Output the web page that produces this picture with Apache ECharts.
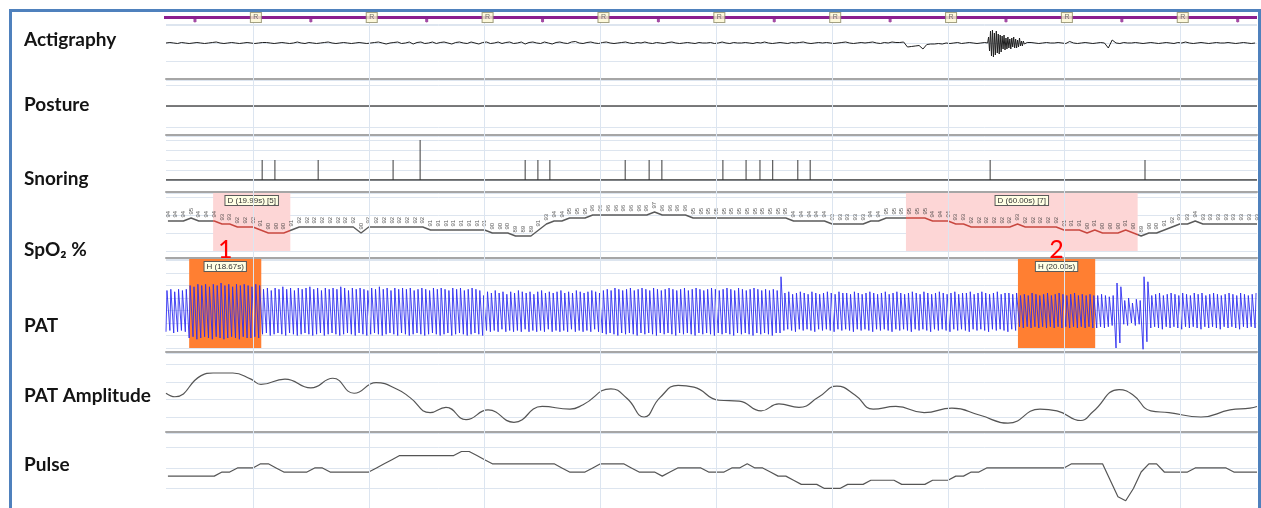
<!DOCTYPE html>
<html>
<head>
<meta charset="utf-8">
<script src="https://cdn.jsdelivr.net/npm/echarts@6/dist/echarts.min.js"></script>
<style>
  html, body { margin: 0; padding: 0; background: #ffffff; }
  #chart { width: 1261px; height: 508px; }
</style>
</head>
<body>
<div id="chart"></div>
<script>
// ---------------- data ----------------
// Time is in seconds from the left edge of the view.
const viewSpan = 282.5;

// Scored 30 s epochs (sleep stage of each) and the stage levels of the hypnogram strip.
const epochLength = 30;
const epochStarts = [-7.5, 22.5, 52.5, 82.5, 112.5, 142.5, 172.5, 202.5, 232.5, 262.5];
const epochStages = ['R', 'R', 'R', 'R', 'R', 'R', 'R', 'R', 'R', 'R'];
const stageLevel = { R: 1 };

// Actigraphy: 1 s samples (null where the fine-sampled movement burst takes over).
const actiStep = 1;
const actiBase = [
  0, 0.5, 0, -0.5, 0.5, 0, -0.5, 0, 0.5, 0,
  -0.5, 0, 0.5, 1, 0, -0.5, 0, 0.5, 0, -0.5,
  0, 0.5, 0, -0.5, 0, 0.5, 0.5, 0, -0.5, 0,
  0.5, 0, -0.5, 0, 1, 0, -0.5, 0.5, 0, -0.5,
  0, 0.5, 1, 0, -0.5, 0, 0.5, 0, -0.5, 0,
  0.5, 0, -0.5, 0, 0.5, 1, 0, -1, 0, 0.5,
  1, -0.5, 0, 1, -1, 0.5, 1, -0.5, 0, 1,
  -0.5, 0.5, 1, 0, -1, 0.5, 1, 0, -0.5, 1,
  0, -1, 0.5, 1, -0.5, 0, 1, -0.5, 0.5, 1,
  -0.5, 0, 1, -1, 0.5, 1, 0, -0.5, 1, 0,
  -1, 0.5, 1, 0, -0.5, 1, 1.5, 0, -0.5, 0.5,
  1, 0, -0.5, 0.5, 1, 0, -0.5, 0, 0.5, 1,
  0, -0.5, 0.5, 0, 1, 0, -0.5, 0.5, 0, -0.5,
  0.5, 1, 0, -0.5, 0, 0.5, 0, -0.5, 0.5, 0,
  0, 0.5, -0.5, 0, 1, 0, -0.5, 0.5, 0, 0,
  0.5, 0, -0.5, 0.5, 0, 1, 0, -0.5, 0, 0.5,
  0, -0.5, 0.5, 0, 0.5, 1, 0, -0.5, 0, 0.5,
  0, 0.5, 0, -0.5, 0, 0.5, 1, 0, -0.5, 0,
  0.5, 0, 0.5, 1, 0, -0.5, 0.5, 0, 1, 0.5,
  0.5, 1, -4, -3.5, -3, -2.5, -6, -1.5, -1, -1,
  -0.5, -1, 0, -0.5, 0, 0.5, -0.5, 0, 0.5, 0,
  -0.5, 0, 0.5, null, null, null, null, null, null, null,
  null, null, null, null, 0.5, 0, -0.5, 0, 0.5, 0,
  0, 0.5, 0, -0.5, 1.5, 0, -0.5, 0, 0.5, 0,
  -0.5, 0, 0.5, 0, -5, 3, 0, -0.5, 0.5, 0,
  0, 0.5, 0, -0.5, 0, 0.5, 0, -0.5, 0, 0.5,
  0, -0.5, 0.5, 0, 1, 0, -0.5, 0, 0.5, 0,
  -0.5, 0, 0.5, 0, 0, 0.5, 0, -0.5, 0, 0.5,
  0, -0.5, 0
];
// Movement burst, 0.25 s samples.
const actiBurstStart = 212.75;
const actiBurstStep = 0.25;
const actiBurst = [
  0, 6, -8, 12, -13, 13, -14, 10, -12, 12,
  -10, 9, -11, 8, -9, 7, -6, 8, -7, 5,
  -6, 6, -5, 4, -6, 5, -4, 6, -5, 4,
  -5, 3, -4, 5, -3, 2, -3, 2, -1, 1,
  -1, 0.5, 0
];

// Body posture (single position through the view).
const postureTimes = [0, 282.5];
const postureValues = [0, 0];

// Snoring events: time and intensity.
const snoreTimes = [24.9, 28.2, 39.4, 58.8, 65.8, 93.0, 96.3, 99.4, 118.9, 125.1,
  128.4, 144.2, 150.2, 153.8, 157.1, 163.6, 166.8, 213.4, 253.5];
const snoreLevels = [20, 20, 20, 20, 40, 20, 20, 20, 20, 20,
  20, 20, 20, 20, 20, 20, 20, 20, 20];
const snoreBaseTimes = [0, 282.5];

// SpO2 (%), one sample every 2 s.
const spo2Start = 0.5;
const spo2Step = 2;
const spo2 = [
  94, 94, 94, 95, 94, 94, 94, 93, 93, 92,
  92, 92, 91, 90, 90, 90, 91, 92, 92, 92,
  92, 92, 92, 92, 92, 90, 92, 92, 92, 92,
  92, 92, 92, 92, 91, 91, 91, 91, 91, 91,
  91, 91, 90, 90, 90, 89, 89, 89, 91, 93,
  94, 94, 95, 95, 95, 96, 96, 96, 96, 96,
  96, 96, 96, 97, 96, 96, 96, 96, 95, 95,
  95, 95, 95, 95, 95, 95, 95, 95, 95, 95,
  95, 94, 94, 94, 94, 94, 93, 93, 93, 93,
  93, 94, 94, 95, 95, 95, 95, 95, 95, 94,
  94, 94, 93, 93, 92, 92, 92, 92, 92, 92,
  93, 92, 92, 92, 92, 92, 91, 91, 91, 90,
  91, 90, 90, 90, 91, 90, 89, 90, 90, 91,
  92, 93, 93, 94, 93, 93, 93, 93, 93, 93,
  93, 93
];

// Pulse rate (bpm), same 2 s sampling.
const pulse = [
  63, 63, 63, 63, 63, 63, 63, 64, 64, 65,
  65, 65, 66, 66, 65, 64, 64, 64, 64, 65,
  65, 64, 64, 64, 64, 64, 64, 65, 66, 67,
  68, 68, 68, 68, 68, 68, 68, 68, 69, 69,
  68, 67, 66, 66, 66, 66, 66, 66, 66, 66,
  66, 65, 64, 64, 64, 65, 66, 66, 66, 66,
  65, 64, 64, 64, 63, 64, 65, 65, 65, 65,
  64, 64, 64, 65, 65, 66, 65, 65, 64, 63,
  63, 62, 61, 61, 61, 60, 60, 60, 61, 61,
  61, 62, 62, 62, 62, 61, 61, 61, 61, 62,
  62, 62, 63, 63, 64, 64, 65, 65, 65, 65,
  65, 65, 65, 65, 65, 65, 65, 66, 66, 66,
  66, 66, 62, 58, 57, 60, 64, 66, 66, 64,
  64, 64, 64, 65, 65, 65, 65, 65, 64, 64,
  64, 64
];

// PAT waveform: per-beat trough and peak.
const beatPeriod = 1;
const upstroke = 0.25;
const patHigh = [
  16, 17, 15, 17, 16, 17,
  20, 19, 21, 20, 21, 19, 21, 20, 22, 20, 21, 19, 21, 20, 21, 20, 19, 21, 20,
  17, 18, 16, 18, 17, 19, 17, 18, 16, 18,
  17, 18, 19, 17, 18, 16, 18, 17, 18, 17,
  19, 18, 16, 18, 17, 18, 17, 16, 18, 17,
  19, 17, 18, 16, 18, 17, 18, 17, 18, 16,
  17, 18, 17, 16, 18, 17, 18, 17, 16, 18,
  17, 18, 16, 17, 18, 17, 16,
  12, 15, 14, 16, 14, 15, 13, 15, 14, 16,
  15, 14, 15, 13, 15, 16, 14, 15, 14, 15,
  16, 14, 15, 14, 16, 15, 14, 15, 16, 15, 14,
  16, 17, 16, 18, 17, 16, 17, 18, 16, 17,
  18, 17, 16, 18, 17, 16, 17, 18, 17, 16,
  17, 18, 16, 17, 18, 17, 16, 17, 18, 17,
  16, 17, 18, 17, 16, 18, 17, 16, 17, 18,
  17, 16, 17, 16, 17, 16,
  27,
  14, 15, 13, 14, 15, 14, 13, 15, 14, 13,
  14, 15, 14, 13, 15, 14, 14, 13, 15, 14,
  13, 14, 15, 14, 13, 14, 15, 13, 14, 15,
  14, 13, 14, 15, 14, 13, 15, 14, 13, 14,
  15, 14, 13, 14, 15, 13, 14, 14, 15, 13,
  14, 15, 14, 13, 14, 15, 13, 14, 14, 13, 14,
  12, 13, 12, 14, 13, 12, 13, 14, 12, 13, 14, 13, 12, 13, 14, 12, 13, 12, 13, 12,
  12, 13, 12, 11, 12,
  22, 19,
  8, 10, 6, 9, 8,
  27, 23,
  12, 13, 14, 12, 13, 14, 13, 12, 14, 13,
  12, 14, 13, 14, 12, 13, 14, 13, 12, 13,
  14, 13, 12, 14, 13, 12, 13, 14
];
const patLow = [
  -17, -16, -18, -17, -16, -17,
  -22, -21, -23, -22, -21, -22, -23, -21, -22, -23, -22, -21, -22, -23, -21, -22, -22, -21, -22,
  -19, -18, -20, -19, -18, -19, -20, -18, -19, -20,
  -19, -18, -19, -20, -19, -18, -20, -19, -18, -19,
  -20, -19, -18, -19, -20, -18, -19, -20, -19, -18,
  -19, -20, -19, -18, -19, -20, -18, -19, -20, -19,
  -18, -19, -20, -19, -18, -19, -20, -19, -18, -20,
  -19, -18, -19, -20, -19, -18, -19,
  -20, -16, -17, -16, -17, -15, -17, -16, -17, -16,
  -17, -15, -17, -16, -17, -16, -17, -15, -17, -16,
  -17, -16, -17, -15, -17, -16, -17, -16, -17, -15, -17,
  -18, -19, -18, -19, -20, -18, -19, -18, -19, -20,
  -18, -19, -18, -19, -20, -18, -19, -18, -19, -20,
  -18, -19, -18, -19, -20, -18, -19, -18, -19, -20,
  -18, -19, -18, -19, -20, -18, -19, -18, -19, -20,
  -18, -19, -18, -19, -20, -18,
  -18,
  -16, -15, -16, -17, -15, -16, -15, -16, -17, -15,
  -16, -15, -16, -17, -15, -16, -15, -16, -17, -15,
  -16, -15, -16, -17, -15, -16, -15, -16, -17, -15,
  -16, -15, -16, -17, -15, -16, -15, -16, -17, -15,
  -16, -15, -16, -17, -15, -16, -15, -16, -17, -15,
  -16, -15, -16, -17, -15, -16, -15, -16, -17, -15, -16,
  -13, -14, -13, -14, -13, -14, -13, -14, -13, -14, -13, -14, -13, -14, -13, -14, -13, -14, -13, -14,
  -14, -13, -14, -13, -12,
  -30, -26,
  -11, -12, -10, -12, -11,
  -31, -25,
  -14, -13, -14, -15, -13, -14, -13, -14, -15, -13,
  -14, -13, -14, -15, -13, -14, -13, -14, -15, -13,
  -14, -13, -14, -15, -13, -14, -13, -14
];

// PAT amplitude trend.
const ampTimes = [0, 2.3, 9.1, 12.2, 17.3, 22.0, 24.6, 30.8, 37.5, 43.2,
  48.7, 54.4, 60.1, 63.2, 68.4, 72.5, 77.7, 83.4, 90.1, 97.4,
  104.6, 108.0, 115.2, 119.4, 123.8, 127.9, 132.6, 136.7, 143.2, 148.4,
  154.1, 158.7, 163.9, 169.1, 173.7, 178.4, 183.1, 189.0, 196.3, 203.5,
  210.8, 218.0, 226.3, 230.7, 236.9, 240.0, 246.8, 250.4, 255.0, 259.7,
  268.0, 275.5, 280.7, 282.5];
const ampValues = [47, 43, 67, 70, 70, 63, 57, 63, 53, 64,
  47, 59, 51, 42, 25, 31, 17, 28, 14, 32,
  29, 34, 52, 41, 20, 42, 56, 54, 39, 38,
  27, 35, 31, 43, 55, 45, 29, 32, 25, 30,
  22, 13, 29, 27, 16, 26, 51, 45, 27, 25,
  20, 28, 30, 32];

// Scored respiratory events.
const desatStart = [12.2, 191.6];
const desatDur = [19.99, 60.00];
const desatDrop = [5, 7];
const hypoStart = [6.0, 220.6];
const hypoDur = [18.67, 20.00];
const hypoNumber = ['1', '2'];

// Channel names.
const channelNames = ['Actigraphy', 'Posture', 'Snoring', 'SpO\u2082 %', 'PAT', 'PAT Amplitude', 'Pulse'];

// ---------------- layout ----------------
const plotLeft = 166, plotRight = 4;
const labelCenters = [40, 105, 179, 250, 326, 396, 465];
const sepColor = '#a6a6a6';
const gridColor = '#dde5ef';

// one grid per strip
const strips = [
  { top: 11,  height: 13, offset: 0,  min: 0,   max: 2,      interval: null, sep: false }, // hypnogram
  { top: 24,  height: 55, offset: 0,  min: -36, max: 19,     interval: 18,   sep: true },  // actigraphy
  { top: 80,  height: 47, offset: 8,  min: -21, max: 26,     interval: 21,   sep: true },  // posture
  { top: 136, height: 44, offset: 12, min: 0,   max: 44,     interval: 10,   sep: true },  // snoring
  { top: 193, height: 58, offset: 7,  min: 84,  max: 103.33, interval: 6,    sep: true },  // SpO2
  { top: 259, height: 89, offset: 4,  min: -30, max: 41.2,   interval: 10,   sep: true },  // PAT
  { top: 353, height: 64, offset: 15, min: 20,  max: 92.7,   interval: 20,   sep: true },  // PAT amplitude
  { top: 433, height: 76, offset: 0,  min: 55,  max: 73.5,   interval: 5,    sep: false }  // pulse
];

const grids = strips.map(s => ({ left: plotLeft, right: plotRight, top: s.top, height: s.height, outerBoundsMode: 'none' }));
grids.push({ left: plotLeft, right: plotRight, top: 22, bottom: 0, outerBoundsMode: 'none' }); // epoch rulings

const xAxes = grids.map((g, i) => {
  const s = strips[i];
  return {
    gridIndex: i, type: 'value', min: 0, max: viewSpan,
    position: 'bottom', offset: s ? s.offset : 0,
    axisLine: { show: !!(s && s.sep), onZero: false, lineStyle: { color: sepColor, width: 2 } },
    axisTick: { show: false }, axisLabel: { show: false }, splitLine: { show: false }
  };
});
const yAxes = grids.map((g, i) => {
  const s = strips[i];
  const ax = {
    gridIndex: i, type: 'value',
    axisLine: { show: false }, axisTick: { show: false }, axisLabel: { show: false },
    splitLine: { show: !!(s && s.interval), lineStyle: { color: gridColor, width: 1 } }
  };
  if (s) { ax.min = s.min; ax.max = s.max; if (s.interval) ax.interval = s.interval; }
  else { ax.min = 0; ax.max = 1; }
  return ax;
});

// ---------------- series ----------------
const lineBase = { type: 'line', symbol: 'none', showSymbol: false, silent: true, animation: false };

const hypnoPoints = epochStarts.map((t, i) => [t, stageLevel[epochStages[i]]]);
hypnoPoints.push([viewSpan, stageLevel[epochStages[epochStages.length - 1]]]);

const actiPoints = [];
actiBase.forEach((v, i) => { if (v !== null) actiPoints.push([i * actiStep, v]); });
actiBurst.forEach((v, i) => actiPoints.push([actiBurstStart + i * actiBurstStep, v]));
actiPoints.sort((a, b) => a[0] - b[0]);

const spo2Points = spo2.map((v, i) => [spo2Start + i * spo2Step, v]);
const pulsePoints = pulse.map((v, i) => [spo2Start + i * spo2Step, v]);

const patPoints = [];
patHigh.forEach((h, i) => {
  const t = i * beatPeriod;
  patPoints.push([t, patLow[i]]);
  patPoints.push([t + upstroke, h]);
});

const eventBox = {
  backgroundColor: '#ffffe4', borderColor: '#5a5a5a', borderWidth: 1,
  padding: [1, 2, 0, 2], fontSize: 8, color: '#333', fontFamily: 'Liberation Sans'
};

const series = [];
// hypnogram
series.push(Object.assign({}, lineBase, {
  xAxisIndex: 0, yAxisIndex: 0, data: hypnoPoints, step: 'start',
  lineStyle: { color: '#8c1f8f', width: 3 }, z: 3
}));
series.push({
  type: 'scatter', xAxisIndex: 0, yAxisIndex: 0, silent: true, animation: false,
  data: epochStarts.map((t, i) => [t + epochLength / 2, stageLevel[epochStages[i]]]),
  symbol: 'path://M0,0 L0,3 Q2,6 4,3 L4,0 Z', symbolSize: [3, 4], symbolOffset: [0, 3],
  itemStyle: { color: '#8c1f8f' }, z: 3
});
series.push({
  type: 'scatter', xAxisIndex: 0, yAxisIndex: 0, silent: true, animation: false,
  data: epochStarts.map((t, i) => [t, stageLevel[epochStages[i]], epochStages[i]]),
  symbol: 'rect', symbolSize: [11, 10], symbolOffset: [3, 0],
  itemStyle: { color: '#fdf8d2', borderColor: '#8d8a66', borderWidth: 1 },
  label: { show: true, position: 'inside', formatter: p => p.data[2], fontSize: 7, color: '#555', fontFamily: 'Liberation Sans' },
  z: 6
});
// actigraphy
series.push(Object.assign({}, lineBase, {
  xAxisIndex: 1, yAxisIndex: 1, data: actiPoints, lineStyle: { color: '#1e1e1e', width: 1 }, z: 3
}));
// posture
series.push(Object.assign({}, lineBase, {
  xAxisIndex: 2, yAxisIndex: 2, data: postureTimes.map((t, i) => [t, postureValues[i]]),
  lineStyle: { color: '#505050', width: 1.5 }, z: 3
}));
// snoring
series.push(Object.assign({}, lineBase, {
  xAxisIndex: 3, yAxisIndex: 3, data: snoreBaseTimes.map(t => [t, 0]),
  lineStyle: { color: '#333', width: 1.5 }, z: 3
}));
series.push({
  type: 'bar', xAxisIndex: 3, yAxisIndex: 3, silent: true, animation: false,
  data: snoreTimes.map((t, i) => [t, snoreLevels[i]]), barWidth: 1,
  itemStyle: { color: '#3a3a3a' }, z: 3
});
// desaturation areas (behind the rulings)
series.push(Object.assign({}, lineBase, {
  xAxisIndex: 4, yAxisIndex: 4, data: [], z: -1,
  markArea: {
    silent: true, itemStyle: { color: '#fdd6d6' }, label: { show: false },
    data: desatStart.map((s, i) => [{ xAxis: s }, { xAxis: s + desatDur[i] }])
  }
}));
// desaturation tags
series.push(Object.assign({}, lineBase, {
  xAxisIndex: 4, yAxisIndex: 4, data: [], z: 6,
  markArea: {
    silent: true, itemStyle: { color: 'rgba(0,0,0,0)' },
    label: Object.assign({ show: true, position: 'insideTop', distance: 3, formatter: '{b}' }, eventBox),
    data: desatStart.map((s, i) => [
      { name: 'D (' + desatDur[i].toFixed(2) + 's) [' + desatDrop[i] + ']', xAxis: s },
      { xAxis: s + desatDur[i] }
    ])
  }
}));
// SpO2 trace and values
const spo2Index = series.length;
series.push(Object.assign({}, lineBase, {
  xAxisIndex: 4, yAxisIndex: 4, data: spo2Points, lineStyle: { width: 1.4 }, z: 3
}));
series.push({
  type: 'scatter', xAxisIndex: 4, yAxisIndex: 4, silent: true, animation: false,
  data: spo2Points, symbolSize: 1, itemStyle: { color: 'rgba(0,0,0,0)' },
  label: {
    show: true, position: 'top', distance: 3, rotate: 90, align: 'left', verticalAlign: 'middle',
    formatter: p => String(p.data[1]), fontSize: 6, color: '#2e2e2e', fontFamily: 'Liberation Sans'
  },
  z: 4
});
// hypopnea areas (behind the rulings)
series.push(Object.assign({}, lineBase, {
  xAxisIndex: 5, yAxisIndex: 5, data: [], z: -1,
  markArea: {
    silent: true, itemStyle: { color: '#ff7f32' }, label: { show: false },
    data: hypoStart.map((s, i) => [{ xAxis: s }, { xAxis: s + hypoDur[i] }])
  }
}));
// PAT waveform
series.push(Object.assign({}, lineBase, {
  xAxisIndex: 5, yAxisIndex: 5, data: patPoints, clip: false,
  lineStyle: { color: '#2c2cf0', width: 1, opacity: 0.88 }, z: 3
}));
// hypopnea tags and numbers
series.push(Object.assign({}, lineBase, {
  xAxisIndex: 5, yAxisIndex: 5, data: [], z: 6,
  markArea: {
    silent: true, itemStyle: { color: 'rgba(0,0,0,0)' },
    label: Object.assign({ show: true, position: 'insideTop', distance: 3, formatter: '{b}' }, eventBox),
    data: hypoStart.map((s, i) => [
      { name: 'H (' + hypoDur[i].toFixed(2) + 's)', xAxis: s },
      { xAxis: s + hypoDur[i] }
    ])
  }
}));
series.push(Object.assign({}, lineBase, {
  xAxisIndex: 5, yAxisIndex: 5, data: [], z: 6,
  markArea: {
    silent: true, itemStyle: { color: 'rgba(0,0,0,0)' },
    label: { show: true, position: 'top', distance: -3, formatter: '{b}', fontSize: 25, color: '#ff0000', fontFamily: 'Lato' },
    data: hypoStart.map((s, i) => [{ name: hypoNumber[i], xAxis: s }, { xAxis: s + hypoDur[i] }])
  }
}));
// PAT amplitude
series.push(Object.assign({}, lineBase, {
  xAxisIndex: 6, yAxisIndex: 6, data: ampTimes.map((t, i) => [t, ampValues[i]]),
  smooth: 0.5, clip: false, lineStyle: { color: '#555', width: 1.2 }, z: 3
}));
// pulse
series.push(Object.assign({}, lineBase, {
  xAxisIndex: 7, yAxisIndex: 7, data: pulsePoints, lineStyle: { color: '#555', width: 1.2 }, z: 3
}));
// epoch rulings across all strips
series.push(Object.assign({}, lineBase, {
  xAxisIndex: 8, yAxisIndex: 8, data: [], z: 1,
  markLine: {
    silent: true, symbol: 'none', label: { show: false }, animation: false,
    lineStyle: { color: '#dce5f0', width: 1, type: 'solid' },
    data: epochStarts.filter(t => t > 0 && t < viewSpan).map(t => ({ xAxis: t }))
  }
}));

// ---------------- chart ----------------
const chart = echarts.init(document.getElementById('chart'), null, { renderer: 'canvas' });
chart.setOption({
  backgroundColor: '#ffffff',
  animation: false,
  grid: grids,
  xAxis: xAxes,
  yAxis: yAxes,
  visualMap: [{
    type: 'piecewise', show: false, dimension: 0, seriesIndex: spo2Index,
    pieces: desatStart.map((s, i) => ({ gte: s, lte: s + desatDur[i], color: '#c8473f' })),
    outOfRange: { color: '#5a5a5a' }
  }],
  graphic: [
    ...channelNames.map((name, i) => ({
      type: 'text', x: 24, y: labelCenters[i], silent: true,
      style: { text: name, fontSize: 19, fontWeight: 'bold', fontFamily: 'Lato', fill: '#141414', verticalAlign: 'middle' }
    })),
    {
      type: 'rect', silent: true, z: 100,
      shape: { x: 10.5, y: 10.5, width: 1249, height: 600 },
      style: { fill: 'none', stroke: '#4f81bd', lineWidth: 3 }
    }
  ],
  series: series
});
</script>
</body>
</html>
